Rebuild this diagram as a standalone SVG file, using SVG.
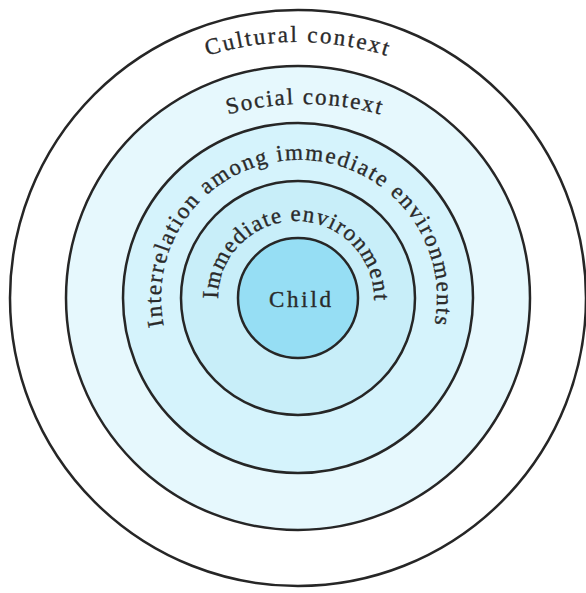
<svg xmlns="http://www.w3.org/2000/svg" width="586" height="593" viewBox="0 0 586 593">
  <style>
    .ring { stroke: #262626; stroke-width: 2.5; }
    .lbl { font-family: "Liberation Serif", "DejaVu Serif", serif; font-size: 23px; fill: #2a2a2a; stroke: #2a2a2a; stroke-width: 0.35; }
  </style>
  <defs>
    <path id="pCultural" d="M 97 119.1 A 298 298 0 0 1 497 119.1"/>
    <path id="pSocial" d="M 154 147.6 A 280 280 0 0 1 454 147.6"/>
    <path id="pInter" d="M 163.9 326 A 138 138 0 1 1 434.1 326"/>
    <path id="pImm" d="M 218 299 A 78 78 0 1 1 374 299"/>
  </defs>
  <rect x="0" y="0" width="586" height="593" fill="#ffffff"/>
  <g id="cultural">
    <circle class="ring" cx="298" cy="298" r="288" fill="#ffffff"/>
    <text class="lbl" text-anchor="middle"><textPath href="#pCultural" startOffset="50%" textLength="182" lengthAdjust="spacing">Cultural context</textPath></text>
  </g>
  <g id="social">
    <circle class="ring" cx="298" cy="298" r="232" fill="#e6f8fd"/>
    <text class="lbl" text-anchor="middle"><textPath href="#pSocial" startOffset="50%" textLength="154" lengthAdjust="spacing">Social context</textPath></text>
  </g>
  <g id="interrelation">
    <circle class="ring" cx="298" cy="298" r="175" fill="#d5f3fc"/>
    <text class="lbl"><textPath href="#pInter" textLength="488" lengthAdjust="spacing">Interrelation among immediate environments</textPath></text>
  </g>
  <g id="immediate">
    <circle class="ring" cx="298" cy="298" r="117" fill="#c8eef9"/>
    <text class="lbl"><textPath href="#pImm" textLength="246" lengthAdjust="spacing">Immediate environment</textPath></text>
  </g>
  <g id="child">
    <circle class="ring" cx="298" cy="298" r="60" fill="#96def4"/>
    <text class="lbl" x="300" y="307" text-anchor="middle" textLength="62" lengthAdjust="spacing">Child</text>
  </g>
  <g id="connectors"/>
</svg>
